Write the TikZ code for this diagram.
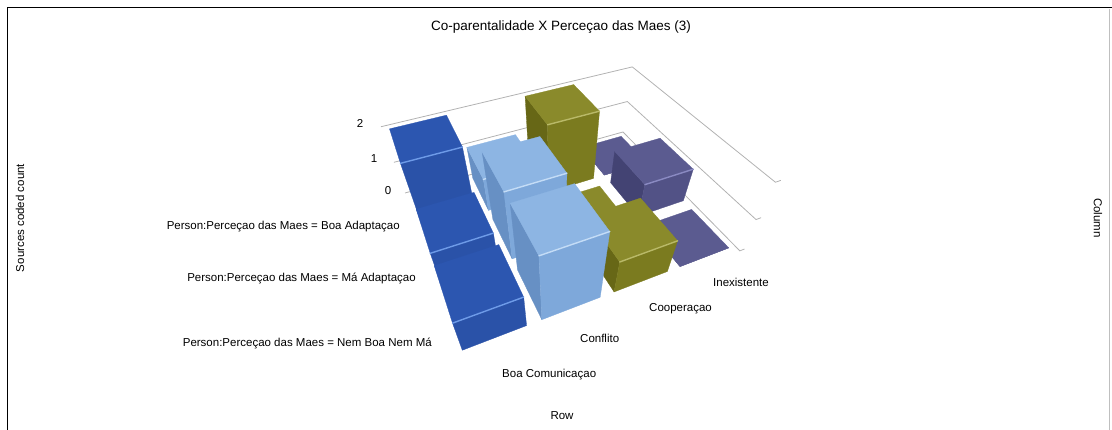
\documentclass[tikz,border=0pt]{standalone}
\usepackage{fontspec}
\setmainfont{Liberation Sans}

% colours of the four columns: top, front, side and ridge
\definecolor{c0top}{HTML}{2C56B0}
\definecolor{c0front}{HTML}{2A52A8}
\definecolor{c0side}{HTML}{22448F}
\definecolor{c0edge}{HTML}{6E9BE8}
\definecolor{c1top}{HTML}{8DB5E3}
\definecolor{c1front}{HTML}{7EA8DA}
\definecolor{c1side}{HTML}{6790C4}
\definecolor{c1edge}{HTML}{C4DCF6}
\definecolor{c2top}{HTML}{8A8A2B}
\definecolor{c2front}{HTML}{7B7B1F}
\definecolor{c2side}{HTML}{676716}
\definecolor{c2edge}{HTML}{B9B968}
\definecolor{c3top}{HTML}{5B5B90}
\definecolor{c3front}{HTML}{525286}
\definecolor{c3side}{HTML}{434373}
\definecolor{c3edge}{HTML}{8A8AC2}

% perspective point: name, column, row (depth), height
\newcommand{\chartpt}[4]{%
  \pgfmathsetmacro\pw{1+0.03633*(#2)-0.097*(#3)-0.069*(#4)}%
  \pgfmathsetmacro\px{(405+77.13*(#2)-27.16*(#3)-38.3*(#4))/\pw}%
  \pgfmathsetmacro\py{(193-10.46*(#2)+21.05*(#3)-41.88*(#4))/\pw}%
  \coordinate (#1) at (\px,\py);}

% one bar: column, row, height, colour prefix
\newcommand{\chartbar}[4]{%
  \chartpt{fbl}{#1+0.1}{#2+0.9}{0}%
  \chartpt{fbr}{#1+0.9}{#2+0.9}{0}%
  \chartpt{ftr}{#1+0.9}{#2+0.9}{#3}%
  \chartpt{ftl}{#1+0.1}{#2+0.9}{#3}%
  \chartpt{btl}{#1+0.1}{#2+0.1}{#3}%
  \chartpt{btr}{#1+0.9}{#2+0.1}{#3}%
  \chartpt{bbl}{#1+0.1}{#2+0.1}{0}%
  \ifnum#1>0 \path[face=#4side] (bbl) -- (fbl) -- (ftl) -- (btl) -- cycle;\fi
  \path[face=#4front] (fbl) -- (fbr) -- (ftr) -- (ftl) -- cycle;
  \path[face=#4top] (ftl) -- (ftr) -- (btr) -- (btl) -- cycle;
  \ifdim#3pt>0pt \draw[ridge=#4edge] (ftl) -- (ftr);\fi
}

\begin{document}
\begin{tikzpicture}[
    x=1pt, y=-1pt,
    gridline/.style={draw=black!30, line width=0.8pt},
    chartlabel/.style={font=\fontsize{11.5}{13}\selectfont, inner sep=1pt},
    face/.style={fill=#1, draw=#1, line width=0.3pt, line join=round},
    ridge/.style={draw=#1, line width=1.4pt, line cap=round}
  ]
  \useasboundingbox (0,0) rectangle (1112,430);
  % frame
  \draw[line width=1.6pt] (7.5,430) -- (7.5,7.5) -- (1112,7.5);
  \draw[black!25, line width=0.8pt] (1109,9) -- (1109,430);

  % walls
  \foreach \z in {0,1,2}{
    \chartpt{gl}{0}{0}{\z}
    \chartpt{gc}{4}{0}{\z}
    \chartpt{gr}{4}{3}{\z}
    \chartpt{gt}{4.08}{3}{\z}
    \draw[gridline] (gl) -- (gc) -- (gr) -- (gt);
  }

  % bars, back row first
  \foreach \row/\ha/\hb/\hc/\hd in {0/2/1/2/0, 1/1/2/0/1, 2/1/2/1/0}{
    \chartbar{3}{\row}{\hd}{c3}
    \chartbar{2}{\row}{\hc}{c2}
    \chartbar{1}{\row}{\hb}{c1}
    \chartbar{0}{\row}{\ha}{c0}
  }

  \node[chartlabel, font=\fontsize{13.5}{15}\selectfont] (title) at (561,27) {Co-parentalidade X Perceçao das Maes (3)};
  \node[chartlabel] (tick2) at (360,123) {2};
  \node[chartlabel] (tick1) at (374,159) {1};
  \node[chartlabel] (tick0) at (388,191) {0};
  \node[chartlabel, rotate=90] (countaxis) at (20,218) {Sources coded count};
  \node[chartlabel, rotate=-90] (columnaxis) at (1098,218) {Column};
  \node[chartlabel, anchor=east] (rowboa) at (401,227) {Person:Perceçao das Maes = Boa Adaptaçao};
  \node[chartlabel, anchor=east] (rowma) at (417,278) {Person:Perceçao das Maes = Má Adaptaçao};
  \node[chartlabel, anchor=east] (rownem) at (433,343) {Person:Perceçao das Maes = Nem Boa Nem Má};
  \node[chartlabel, anchor=west] (colboa) at (501,375) {Boa Comunicaçao};
  \node[chartlabel, anchor=west] (colconf) at (579,338) {Conflito};
  \node[chartlabel, anchor=west] (colcoop) at (648,309) {Cooperaçao};
  \node[chartlabel, anchor=west] (colinex) at (712,282) {Inexistente};
  \node[chartlabel] (rowaxis) at (562,416) {Row};
\end{tikzpicture}
\end{document}
